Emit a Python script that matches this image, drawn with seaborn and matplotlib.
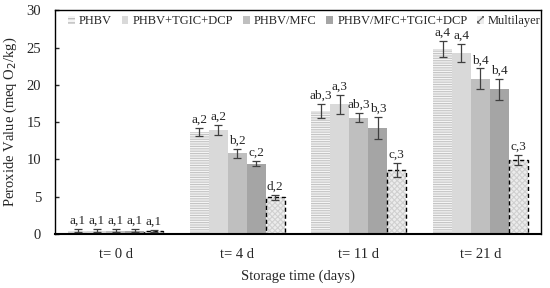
import matplotlib
matplotlib.use('Agg')
import matplotlib.pyplot as plt
import matplotlib.patches as mpatches
import seaborn as sns
import numpy as np
import pandas as pd

# data
times = ['t= 0 d', 't= 4 d', 't= 11 d', 't= 21 d']
samples = ['PHBV', 'PHBV+TGIC+DCP', 'PHBV/MFC', 'PHBV/MFC+TGIC+DCP', 'Multilayer']
values = {
    'PHBV':              [0.45, 13.7, 16.5, 24.8],
    'PHBV+TGIC+DCP':     [0.45, 13.9, 17.4, 24.3],
    'PHBV/MFC':          [0.45, 10.8, 15.6, 20.8],
    'PHBV/MFC+TGIC+DCP': [0.45,  9.4, 14.2, 19.4],
    'Multilayer':        [0.40,  4.9,  8.6,  9.9],
}
errors = {
    'PHBV':              [0.15, 0.55, 0.9, 1.1],
    'PHBV+TGIC+DCP':     [0.15, 0.65, 1.25, 1.2],
    'PHBV/MFC':          [0.15, 0.65, 0.6, 1.4],
    'PHBV/MFC+TGIC+DCP': [0.15, 0.35, 1.5, 1.4],
    'Multilayer':        [0.15, 0.3, 0.95, 0.7],
}
letters = {
    'PHBV':              ['a,1', 'a,2', 'ab,3', 'a,4'],
    'PHBV+TGIC+DCP':     ['a,1', 'a,2', 'a,3', 'a,4'],
    'PHBV/MFC':          ['a,1', 'b,2', 'ab,3', 'b,4'],
    'PHBV/MFC+TGIC+DCP': ['a,1', 'c,2', 'b,3', 'b,4'],
    'Multilayer':        ['a,1', 'd,2', 'c,3', 'c,3'],
}

rows = []
for s in samples:
    for i, t in enumerate(times):
        rows.append({'time': t, 'sample': s, 'value': values[s][i],
                     'err': errors[s][i], 'letter': letters[s][i]})
df = pd.DataFrame(rows)

sns.set_style('white')
plt.rcParams['font.family'] = ['Liberation Serif', 'DejaVu Serif']
plt.rcParams['hatch.linewidth'] = 0.8

face = {'PHBV': '#f4f4f4', 'PHBV+TGIC+DCP': '#d9d9d9', 'PHBV/MFC': '#bfbfbf',
        'PHBV/MFC+TGIC+DCP': '#a5a5a5', 'Multilayer': '#ececec'}

fig = plt.figure(figsize=(5.5, 2.88), dpi=100)
ax = fig.add_axes([0.1, 0.188, 0.884, 0.776])

sns.barplot(data=df, x='time', y='value', hue='sample', hue_order=samples,
            palette=face, width=0.78, gap=0, errorbar=None, saturation=1,
            legend=False, ax=ax)

fs = 9.5
for j, s in enumerate(samples):
    cont = ax.containers[j]
    sub = df[df['sample'] == s]
    for patch, (_, r) in zip(cont.patches, sub.iterrows()):
        x = patch.get_x() + patch.get_width() / 2
        if s == 'PHBV':
            patch.set_hatch('-------')
            patch.set_edgecolor('#c4c4c4')
            patch.set_linewidth(0)
        elif s == 'Multilayer':
            patch.set_hatch('xxxxxx')
            patch.set_edgecolor('#d0d0d0')
            patch.set_linewidth(0)
            ax.add_patch(mpatches.Rectangle((patch.get_x(), 0), patch.get_width(),
                                            patch.get_height(), fill=False,
                                            edgecolor='black', linestyle=(0, (3, 2)),
                                            linewidth=1.0, zorder=3))
        else:
            patch.set_linewidth(0)
        ax.errorbar(x, r['value'], yerr=r['err'], fmt='none', ecolor='#404040',
                    elinewidth=0.9, capsize=3, capthick=0.9, zorder=4)
        ax.text(x, r['value'] + r['err'] + 0.3, r['letter'], ha='center',
                va='bottom', fontsize=fs)

ax.set_ylim(0, 30)
ax.set_yticks([0, 5, 10, 15, 20, 25, 30])
ax.set_xlim(-0.5, 3.5)
ax.tick_params(axis='y', labelsize=10.5, direction='in', length=3, width=1,
               left=True, pad=10)
ax.tick_params(axis='x', labelsize=10.5, length=0, pad=10)
ax.set_xlabel('Storage time (days)', fontsize=10.5, labelpad=6)
ax.set_ylabel('Peroxide Value (meq O$_2$/kg)', fontsize=10.5)
ax.yaxis.set_label_coords(-0.074, 0.5)
for sp in ax.spines.values():
    sp.set_color('black')
    sp.set_linewidth(1.0)
ax.spines['bottom'].set_linewidth(1.5)

handles = []
for s in samples:
    if s == 'PHBV':
        h = mpatches.Patch(facecolor='#f4f4f4', edgecolor='#b0b0b0', hatch='----', linewidth=0)
    elif s == 'Multilayer':
        h = mpatches.Patch(facecolor='#ececec', edgecolor='#606060', hatch='xxx', linewidth=0)
    else:
        h = mpatches.Patch(facecolor=face[s], linewidth=0)
    handles.append(h)
ax.legend(handles, samples, loc='upper center', ncol=5, frameon=False,
          fontsize=9.0, handlelength=0.55, handleheight=0.55, handletextpad=0.35,
          columnspacing=0.75, bbox_to_anchor=(0.513, 1.0), borderaxespad=0.2,
          borderpad=0.2)

fig.savefig('out.png', dpi=100)
